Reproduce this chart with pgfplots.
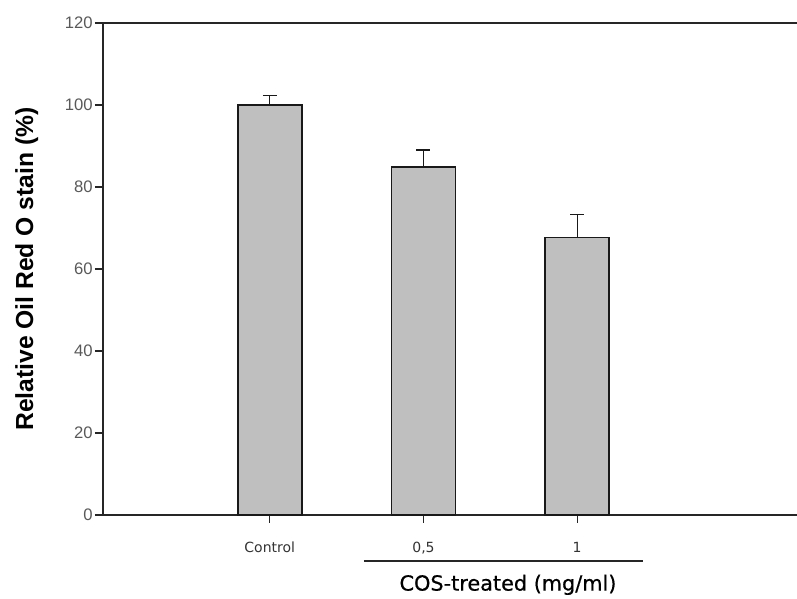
\documentclass[border=0pt]{standalone}
\usepackage{pgfplots}
\pgfplotsset{compat=1.18}
\usepackage{fontspec}
\setmainfont{Liberation Sans}
\newfontfamily\dejavu{DejaVu Sans}
\newfontfamily\dejavubold[FakeBold=0.6]{DejaVu Sans}
\begin{document}
\begin{tikzpicture}
\useasboundingbox (0,0) rectangle (597.75pt,449.25pt);
\begin{axis}[
  at={(77.25pt,63pt)}, anchor=south west,
  scale only axis, width=520.5pt, height=369pt,
  clip=false,
  axis x line*=bottom, axis y line*=left,
  axis line style={black!85, line width=1.2pt},
  xmin=-1.085, xmax=3.43,
  ymin=0, ymax=120,
  ytick={0,20,...,120},
  xtick={0,1,2},
  xticklabels={Control,{0,5},1},
  tick align=outside,
  major tick length=6pt,
  tick style={black!85, line width=0.9pt},
  /pgf/number format/assume math mode=true,
  yticklabel style={font=\fontsize{12.5}{14}\selectfont, text=black!65, anchor=east, inner sep=0pt, xshift=-1.5pt},
  xticklabel style={font=\dejavu\fontsize{10.5}{12}\selectfont, text=black!80, anchor=north, inner sep=0pt, yshift=-14pt},
  every axis y label/.style={at={(axis description cs:-0.11,0.5)}, rotate=90, anchor=center},
  ylabel={\fontsize{18.5}{20}\selectfont\bfseries Relative Oil Red O stain (\%)},
]
\addplot[ybar, bar width=48pt, fill=black!25, draw=black!90, line width=1.3pt,
  error bars/.cd, y dir=plus, y explicit,
  error bar style={black!90, line width=1pt},
  error mark options={rotate=90, black!90, line width=1.3pt, mark size=5.25pt}]
coordinates {
  (0,100) +- (0,2.3)
  (1,84.8) +- (0,4.2)
  (2,67.7) +- (0,5.6)
};
\draw[black!85, line width=1.2pt] (rel axis cs:0,1) -- (rel axis cs:1,1);
\draw[black!85, line width=1pt] (axis description cs:0.376,-0.0935) -- (axis description cs:0.778,-0.0935);
\node[font=\dejavubold\fontsize{15.6}{18}\selectfont, anchor=center] at (axis description cs:0.5836,-0.142) {COS-treated (mg/ml)};
\end{axis}
\end{tikzpicture}
\end{document}
